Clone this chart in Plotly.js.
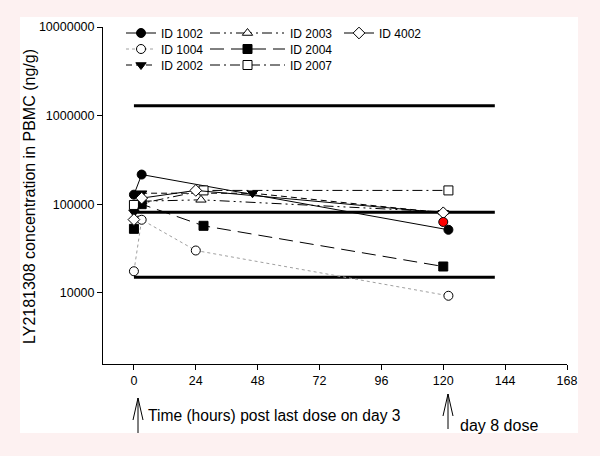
<!DOCTYPE html>
<html>
<head>
<meta charset="utf-8">
<script src="https://cdn.plot.ly/plotly-3.0.1.min.js"></script>
<style>html,body{margin:0;padding:0;background:#fdf1f1;}#chart{width:600px;height:456px;}</style>
</head>
<body>
<div id="chart"></div>
<script>
// ---- data (hours post last dose, concentration ng/g) ----
var ids = ["ID 1002", "ID 1004", "ID 2002", "ID 2003", "ID 2004", "ID 2007", "ID 4002"];
var t1002 = [0, 3, 122];      var c1002 = [128000, 216000, 51400];
var t1004 = [0, 3, 24, 122];  var c1004 = [17500, 66700, 30000, 9250];
var t2002 = [0, 3, 46, 120];  var c2002 = [81000, 133000, 133000, 80000];
var t2003 = [3, 26, 120];     var c2003 = [108000, 112000, 82000];
var t2004 = [0, 3, 27, 120];  var c2004 = [52700, 100000, 57000, 19800];
var t2007 = [0, 27, 122];     var c2007 = [98000, 143000, 143000];
var t4002 = [0, 3, 24, 120];  var c4002 = [67000, 117000, 143000, 80000];
var tRed = [120];             var cRed = [63000];
var refLevels = [1290000, 81000, 15000];
var refSpan = [0, 140];
var xTicks = [0, 24, 48, 72, 96, 120, 144, 168];
var yTicks = [10000, 100000, 1000000, 10000000];
var yTickText = ["10000", "100000", "1000000", "10000000"];

// ---- layout geometry helpers (pixel -> paper) ----
var L = 103, R = 33, T = 27, B = 92, W = 600, H = 456;
var PW = W - L - R, PH = H - T - B;
function px(x) { return (x - L) / PW; }
function py(y) { return (H - B - y) / PH; }

var FONT = "Arial, 'Liberation Sans', sans-serif";
var traces = [];
refLevels.forEach(function (v) {
  traces.push({x: refSpan, y: [v, v], mode: "lines", showlegend: false, hoverinfo: "skip",
    line: {color: "#000", width: 3}});
});
function series(name, t, c, dash, symbol, fill, legend, lineColor) {
  return {x: t, y: c, name: name, mode: "lines+markers", legend: legend,
    line: {color: lineColor || "#000", width: 1, dash: dash},
    marker: {symbol: symbol, size: 9, color: fill, line: {color: "#000", width: 1}}};
}
traces.push(series(ids[0], t1002, c1002, "solid", "circle", "#000", "legend"));
traces.push(series(ids[1], t1004, c1004, "dot", "circle", "#fff", "legend2", "#a0a0a0"));
traces.push(series(ids[2], t2002, c2002, "6px,4px", "triangle-down", "#000", "legend3"));
traces.push(series(ids[3], t2003, c2003, "10px,4px,2px,4px,2px,4px", "triangle-up", "#fff", "legend4"));
traces.push(series(ids[4], t2004, c2004, "14px,7px", "square", "#000", "legend5"));
traces.push(series(ids[5], t2007, c2007, "10px,4px,2px,4px", "square", "#fff", "legend6"));
traces.push(series(ids[6], t4002, c4002, "solid", "diamond", "#fff", "legend7"));
traces.push({x: tRed, y: cRed, mode: "markers", showlegend: false,
  marker: {symbol: "circle", size: 9, color: "#ff0000", line: {color: "#000", width: 1}}});

function arrowPath(x, yTop, yBot, wing, half) {
  return "M" + px(x) + "," + py(yBot) + " L" + px(x) + "," + py(yTop) +
    " M" + px(x - half) + "," + py(yTop + wing) + " L" + px(x) + "," + py(yTop) +
    " L" + px(x + half) + "," + py(yTop + wing);
}

function leg(xPix, yPix, iw) {
  return {font: {family: FONT, size: 12, color: "#000"}, bgcolor: "rgba(0,0,0,0)",
    xanchor: "left", yanchor: "middle", x: px(xPix), y: py(yPix), itemwidth: iw, itemclick: false};
}

var layout = {
  width: W, height: H,
  margin: {l: L, r: R, t: T, b: B},
  paper_bgcolor: "#fdf1f1", plot_bgcolor: "rgba(0,0,0,0)",
  font: {family: FONT, size: 12, color: "#000"},
  xaxis: {range: [-12, 168], tickvals: xTicks, ticks: "outside", ticklen: 5, tickcolor: "#000",
    showline: true, linecolor: "#000", linewidth: 1, showgrid: false, zeroline: false,
    tickfont: {family: FONT, size: 12.5}},
  yaxis: {type: "log", range: [3.196, 7], tickvals: yTicks, ticktext: yTickText,
    ticks: "outside", ticklen: 5, tickcolor: "#000", showline: true, linecolor: "#000", linewidth: 1,
    showgrid: false, zeroline: false, tickfont: {family: FONT, size: 12.5}},
  legend: leg(121, 33, 30),
  legend2: leg(121, 49, 30),
  legend3: leg(121, 65, 30),
  legend4: leg(205, 33, 75),
  legend5: leg(205, 49, 75),
  legend6: leg(205, 65, 75),
  legend7: leg(339, 33, 30),
  shapes: [
    {type: "rect", xref: "paper", yref: "paper", x0: px(20), x1: px(578), y0: py(433), y1: py(17),
      fillcolor: "#ffffff", line: {width: 0}, layer: "below"},
    {type: "path", xref: "paper", yref: "paper", path: arrowPath(138, 398, 433, 22, 5),
      line: {color: "#000", width: 1}},
    {type: "path", xref: "paper", yref: "paper", path: arrowPath(448, 394, 429, 22, 5),
      line: {color: "#000", width: 1}}
  ],
  annotations: [
    {xref: "paper", yref: "paper", x: px(29), y: py(197), xanchor: "center", yanchor: "middle",
      textangle: -90, text: "LY2181308 concentration in PBMC (ng/g)", showarrow: false,
      font: {family: FONT, size: 16}},
    {xref: "paper", yref: "paper", x: px(146), y: py(415), xanchor: "left", yanchor: "middle",
      text: "Time (hours) post last dose on day 3", showarrow: false, font: {family: FONT, size: 15.6}},
    {xref: "paper", yref: "paper", x: px(458), y: py(426), xanchor: "left", yanchor: "middle",
      text: "day 8 dose", showarrow: false, font: {family: FONT, size: 16}}
  ]
};

Plotly.newPlot("chart", traces, layout, {displayModeBar: false, staticPlot: true});
</script>
</body>
</html>
